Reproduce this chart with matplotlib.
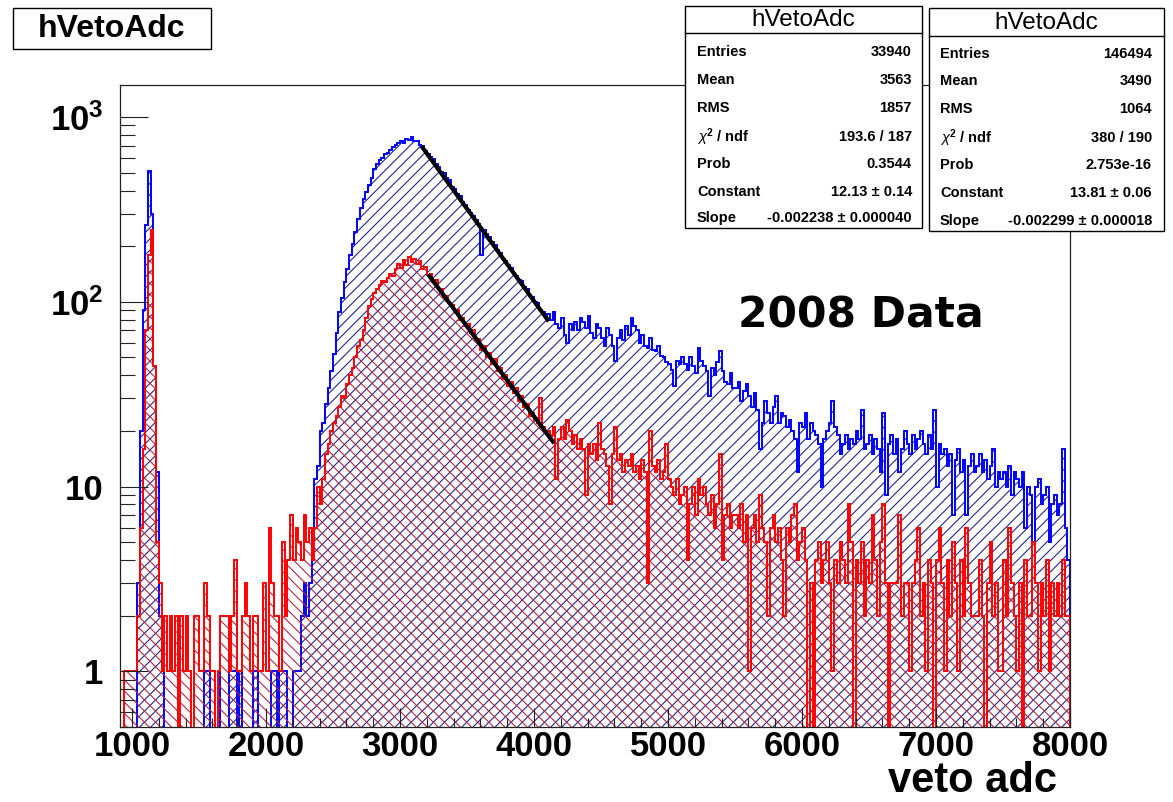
import numpy as np
import matplotlib.pyplot as plt
from matplotlib.patches import Rectangle
from matplotlib.lines import Line2D
from matplotlib.ticker import MultipleLocator, LogLocator, NullFormatter, FixedLocator, FixedFormatter


plt.rcParams['font.family'] = ['Liberation Sans', 'DejaVu Sans']
plt.rcParams['mathtext.fontset'] = 'custom'
plt.rcParams['mathtext.rm'] = 'Liberation Sans:bold'
plt.rcParams['mathtext.it'] = 'Liberation Sans:italic'
plt.rcParams['mathtext.bf'] = 'Liberation Sans:bold'
plt.rcParams['mathtext.default'] = 'rm'
plt.rcParams['hatch.linewidth'] = 0.8


# histogram binning (veto adc)
adc_min = 900
adc_max = 8000
bin_w = 20

# counts per bin, one row = 200 adc
blue_counts = [
    0, 0, 0, 0, 0, 0, 0, 3, 20, 90,
    260, 510, 300, 45, 12, 2, 1, 0, 0, 0,
    0, 0, 0, 0, 0, 0, 0, 0, 0, 0,
    0, 0, 1, 1, 0, 0, 0, 1, 0, 0,
    0, 1, 1, 1, 0, 1, 0, 0, 0, 0,
    1, 1, 0, 0, 0, 0, 0, 1, 1, 0,
    1, 1, 1, 0, 0, 1, 1, 1, 2, 3,
    2, 3, 6, 11, 13, 20, 22, 28, 34, 42,
    52, 68, 88, 105, 128, 150, 180, 205, 240, 280,
    320, 360, 395, 430, 470, 520, 560, 585, 600, 630,
    640, 665, 690, 705, 720, 740, 725, 765, 750, 775,
    745, 740, 705, 695, 655, 628, 605, 590, 555, 535,
    505, 495, 465, 455, 420, 410, 385, 372, 345, 335,
    315, 302, 290, 276, 262, 180, 245, 232, 224, 210,
    202, 190, 184, 170, 167, 158, 152, 143, 138, 132,
    130, 120, 118, 108, 106, 100, 98, 90, 88, 82,
    86, 80, 88, 76, 72, 82, 66, 60, 76, 70,
    78, 70, 82, 78, 72, 84, 68, 64, 76, 72,
    64, 58, 72, 66, 58, 48, 64, 70, 62, 74,
    66, 82, 74, 70, 60, 66, 58, 56, 64, 55,
    54, 58, 51, 50, 47, 46, 43, 35, 48, 46,
    50, 46, 43, 50, 45, 41, 56, 48, 45, 42,
    31, 44, 40, 47, 54, 42, 37, 36, 41, 34,
    34, 37, 29, 33, 36, 31, 27, 32, 26, 16,
    22, 29, 25, 22, 27, 31, 22, 25, 24, 21,
    23, 20, 18, 12, 22, 21, 25, 18, 22, 20,
    19, 17, 10, 18, 20, 22, 29, 21, 19, 15,
    17, 19, 16, 18, 17, 20, 18, 26, 16, 17,
    19, 15, 18, 16, 12, 25, 9, 17, 19, 15,
    18, 12, 16, 20, 17, 15, 19, 16, 18, 20,
    17, 15, 19, 16, 26, 10, 17, 15, 16, 13,
    15, 7, 14, 16, 12, 14, 7, 13, 15, 12,
    13, 15, 12, 14, 11, 13, 16, 10, 12, 11,
    12, 10, 13, 9, 12, 11, 10, 12, 6, 10,
    9, 5, 10, 11, 8, 9, 10, 5, 8, 9,
    7, 8, 16, 6, 4,
]

red_counts = [
    0, 0, 1, 1, 1, 1, 1, 2, 6, 16,
    70, 180, 245, 45, 5, 3, 1, 2, 1, 2,
    1, 2, 0, 2, 1, 2, 1, 0, 2, 2,
    1, 1, 3, 2, 1, 1, 0, 1, 2, 2,
    2, 1, 2, 4, 1, 1, 2, 3, 2, 1,
    2, 2, 1, 1, 3, 1, 6, 3, 2, 2,
    1, 5, 2, 4, 7, 4, 6, 5, 4, 7,
    5, 6, 4, 6, 10, 8, 11, 15, 17, 20,
    22, 24, 27, 31, 30, 36, 40, 44, 50, 58,
    62, 70, 82, 95, 104, 112, 118, 124, 130, 128,
    135, 142, 138, 150, 160, 152, 168, 158, 175, 165,
    170, 160, 166, 150, 155, 140, 142, 128, 132, 118,
    118, 106, 108, 98, 96, 88, 90, 80, 82, 74,
    76, 68, 70, 62, 63, 55, 58, 50, 53, 46,
    49, 42, 44, 38, 40, 35, 37, 32, 34, 29,
    31, 27, 28, 24, 25, 23, 22, 30, 21, 20,
    20, 19, 21, 11, 18, 21, 18, 23, 20, 17,
    19, 16, 18, 16, 9, 17, 15, 17, 14, 22,
    16, 15, 13, 8, 15, 21, 14, 15, 12, 14,
    13, 15, 12, 13, 11, 14, 12, 3, 20, 13,
    12, 14, 11, 12, 17, 11, 10, 9, 11, 8,
    9, 10, 4, 8, 10, 7, 11, 9, 10, 8,
    7, 9, 6, 8, 15, 4, 7, 8, 6, 7,
    7, 6, 8, 5, 7, 1, 6, 7, 5, 9,
    6, 5, 2, 6, 7, 5, 6, 4, 2, 6,
    5, 7, 8, 4, 5, 6, 4, 0, 3, 0,
    4, 5, 3, 4, 5, 3, 1, 4, 3, 5,
    4, 3, 8, 5, 0, 4, 3, 5, 2, 4,
    3, 7, 4, 2, 5, 8, 3, 0, 3, 3,
    3, 7, 2, 3, 3, 1, 3, 4, 6, 2,
    3, 1, 4, 3, 0, 4, 6, 3, 1, 4,
    2, 5, 3, 1, 4, 2, 6, 3, 2, 2,
    2, 4, 2, 0, 3, 5, 2, 3, 1, 1,
    4, 2, 6, 3, 2, 1, 3, 0, 4, 2,
    2, 5, 3, 1, 3, 2, 4, 1, 3, 2,
    3, 2, 4, 2, 2,
]

# expo fits: (constant, slope) and fit range
blue_fit = [13.81, -0.002299]
blue_fit_range = [3160, 4110]
red_fit = [12.13, -0.002238]
red_fit_range = [3210, 4150]

# stat boxes
stat_names = ['Entries', 'Mean', 'RMS', r'$\mathit{\chi}^{2}$ / ndf', 'Prob', 'Constant', 'Slope']
red_stats = ['33940', '3563', '1857', '193.6 / 187', '0.3544', '12.13 \u00b1 0.14', '-0.002238 \u00b1 0.000040']
blue_stats = ['146494', '3490', '1064', '380 / 190', '2.753e-16', '13.81 \u00b1 0.06', '-0.002299 \u00b1 0.000018']

hist_name = 'hVetoAdc'


W, H = 1173, 802
fig = plt.figure(figsize=(W / 100, H / 100), dpi=100)


def fx(x):
    return x / W


def fy(y):
    return 1 - y / H


ax = fig.add_axes([fx(120), fy(727), (1070 - 120) / W, (727 - 85) / H])

edges = np.arange(adc_min, adc_max + bin_w, bin_w)
floor = 0.01  # empty bins go below the axis
b = np.maximum(np.array(blue_counts, dtype=float), floor)
r = np.maximum(np.array(red_counts, dtype=float), floor)

# blue first, red on top (hatches cross)
ax.stairs(b, edges, baseline=floor, fill=True, facecolor='none',
          edgecolor='#26268a', hatch='///', linewidth=0)
ax.stairs(b, edges, baseline=floor, color='#0000ff', linewidth=1.4)
ax.stairs(r, edges, baseline=floor, fill=True, facecolor='none',
          edgecolor='#b02848', hatch='\\\\\\', linewidth=0)
ax.stairs(r, edges, baseline=floor, color='#ff0000', linewidth=1.4)

for (c, s), rng in [(blue_fit, blue_fit_range), (red_fit, red_fit_range)]:
    xs = np.array(rng, dtype=float)
    ax.plot(xs, np.exp(c + s * xs), color='black', linewidth=3.0, solid_capstyle='butt')

ax.set_yscale('log')
ax.set_xlim(910, 8000)
ax.set_ylim(0.5, 1490)

ax.xaxis.set_major_locator(MultipleLocator(1000))
ax.xaxis.set_minor_locator(MultipleLocator(200))
ax.yaxis.set_major_locator(FixedLocator([1, 10, 100, 1000]))
ax.yaxis.set_major_formatter(FixedFormatter(['1', '10', r'$10^{2}$', r'$10^{3}$']))
ax.yaxis.set_minor_locator(LogLocator(base=10, subs=np.arange(2, 10)))
ax.yaxis.set_minor_formatter(NullFormatter())

ax.tick_params(axis='both', which='both', direction='in', top=False, right=False, color='#222222')
ax.tick_params(axis='x', which='major', length=13.5, width=0.8, labelsize=25, pad=2.5)
ax.tick_params(axis='x', which='minor', length=6.5, width=0.8)
ax.tick_params(axis='y', which='major', length=20, width=0.8, labelsize=25, pad=12)
ax.tick_params(axis='y', which='minor', length=11, width=0.8)
for lbl in ax.get_xticklabels() + ax.get_yticklabels():
    lbl.set_fontweight('bold')
for sp in ax.spines.values():
    sp.set_linewidth(0.9)
    sp.set_color('#222222')


# title box
fig.add_artist(Rectangle((fx(13), fy(49)), (211 - 13) / W, (49 - 8) / H,
                         transform=fig.transFigure, facecolor='white', edgecolor='black', linewidth=1))
fig.text(fx(112), fy(29), hist_name, fontsize=23, fontweight='bold', ha='center', va='center')


# stat boxes: left = red hist, right = blue hist
def stat_box(x0, y0, x1, y1, head, lab_x, val_x, row_y, values):
    fig.add_artist(Rectangle((fx(x0), fy(y1)), (x1 - x0) / W, (y1 - y0) / H,
                             transform=fig.transFigure, facecolor='white', edgecolor='black', linewidth=1))
    fig.add_artist(Line2D([fx(x0), fx(x1)], [fy(head), fy(head)],
                          transform=fig.transFigure, color='black', linewidth=1))
    fig.text(fx((x0 + x1) / 2), fy((y0 + head) / 2 + 1), hist_name, fontsize=17.5, ha='center', va='center')
    for name, val, yy in zip(stat_names, values, row_y):
        fig.text(fx(lab_x), fy(yy), name, fontsize=10.5, fontweight='bold', ha='left', va='center')
        fig.text(fx(val_x), fy(yy), val, fontsize=10.5, fontweight='bold', ha='right', va='center')


stat_box(685, 6, 922, 228, 33, 697, 912, [52, 80, 108, 137, 164, 192, 218], red_stats)
stat_box(929, 8, 1164, 231, 36, 940, 1152, [54, 81, 109, 138, 165, 193, 221], blue_stats)

fig.text(fx(738), fy(327), '2008 Data', fontsize=30.5, fontweight='bold',
         family='DejaVu Sans', ha='left', va='baseline')
fig.text(fx(1057), fy(801), 'veto adc', fontsize=30, fontweight='bold', ha='right', va='bottom')

fig.savefig('out.png', dpi=100)
